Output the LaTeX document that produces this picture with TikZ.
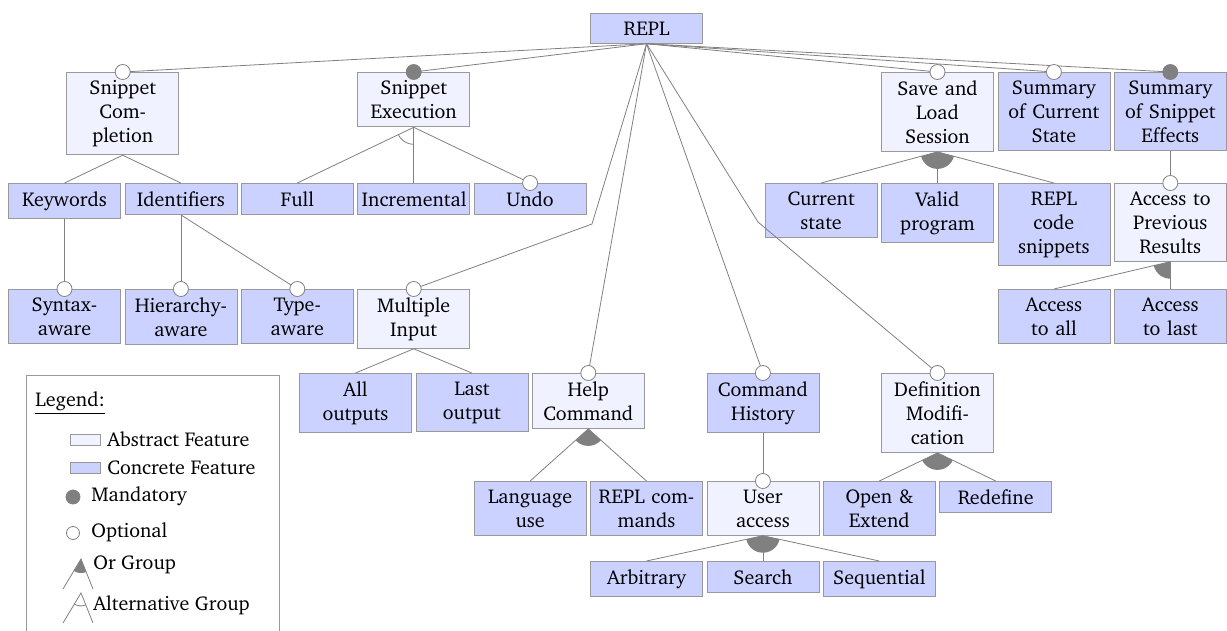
\documentclass[tikz,border=0pt]{standalone}
\usepackage[T1]{fontenc}
\usepackage{charter}
\usepackage{tikz}
\definecolor{concblue}{RGB}{204,210,255}
\definecolor{abstblue}{RGB}{240,242,255}

\begin{document}
\begin{tikzpicture}[
x = 0.5pt, y = -0.5pt,
feat/.style={rectangle, align = center, anchor = north,
draw = gray!80, text width = 52pt, inner xsep = 2pt, inner ysep = 4pt},
absrect/.style={feat, fill = abstblue},
conrect/.style={feat, fill = concblue},
featline/.style={draw = gray},
optdot/.style={draw = gray, fill = white},
mandot/.style={draw = gray, fill = gray},
grpfill/.style={fill = gray},
grparc/.style={draw = gray},
legtext/.style={anchor = west, inner sep = 1pt}]

\useasboundingbox (0,0) rectangle (1227,631);

\node[conrect] (R) at (646.5,13) {REPL};

\node[absrect] (SC) at (122.7,72) {Snippet\\Com-\\pletion};
\node[absrect] (SE) at (413.7,72) {Snippet\\Execution};
\node[absrect] (SL) at (937.5,72) {Save and\\Load\\Session};
\node[conrect] (SCS) at (1053.9,72) {Summary\\of Current\\State};
\node[conrect] (SSE) at (1170.3,72) {Summary\\of Snippet\\Effects};

\node[conrect] (KW) at (64.5,183) {Keywords};
\node[conrect] (ID) at (180.9,183) {Identifiers};
\node[conrect] (FU) at (297.3,183) {Full};
\node[conrect] (IN) at (413.7,183) {Incremental};
\node[conrect] (UN) at (530.1,183) {Undo};
\node[conrect] (CS) at (821.1,183) {Current\\state};
\node[conrect] (VP) at (937.5,183) {Valid\\program};
\node[conrect] (RS) at (1053.9,183) {REPL\\code\\snippets};
\node[absrect] (AP) at (1170.3,183) {Access to\\Previous\\Results};

\node[conrect] (SA) at (64.5,289) {Syntax-\\aware};
\node[conrect] (HA) at (180.9,289) {Hierarchy-\\aware};
\node[conrect] (TA) at (297.3,289) {Type-\\aware};
\node[absrect] (MI) at (413.7,289) {Multiple\\Input};
\node[conrect] (AA) at (1053.9,289) {Access\\to all};
\node[conrect] (AL) at (1170.3,289) {Access\\to last};

\node[conrect] (AO) at (355.5,373) {All\\outputs};
\node[conrect] (LO) at (471.9,373) {Last\\output};
\node[absrect] (HC) at (588.3,373) {Help\\Command};
\node[conrect] (CH) at (762.9,373) {Command\\History};
\node[absrect] (DM) at (937.5,373) {Definition\\Modifi-\\cation};

\node[conrect] (LU) at (530.1,481) {Language\\use};
\node[conrect] (RC) at (646.5,481) {REPL com-\\mands};
\node[absrect] (UA) at (762.9,481) {User\\access};
\node[conrect] (OE) at (879.3,481) {Open \&\\Extend};
\node[conrect] (RD) at (995.7,481) {Redefine};

\node[conrect] (AR) at (646.5,561) {Arbitrary};
\node[conrect] (SR) at (762.9,561) {Search};
\node[conrect] (SQ) at (879.3,561) {Sequential};

% connectors
\coordinate (bMI) at (592,224);
\coordinate (bDM) at (758,222);
\foreach \c in {SC,SE,SL,SCS,SSE,HC,CH}
  \draw[featline] (R.south) -- (\c.north);
\draw[featline] (R.south) -- (bMI) -- (MI.north);
\draw[featline] (R.south) -- (bDM) -- (DM.north);
\foreach \c in {KW,ID} \draw[featline] (SC.south) -- (\c.north);
\draw[featline] (KW.south) -- (SA.north);
\foreach \c in {HA,TA} \draw[featline] (ID.south) -- (\c.north);
\foreach \c in {FU,IN,UN} \draw[featline] (SE.south) -- (\c.north);
\foreach \c in {CS,VP,RS} \draw[featline] (SL.south) -- (\c.north);
\draw[featline] (SSE.south) -- (AP.north);
\foreach \c in {AA,AL} \draw[featline] (AP.south) -- (\c.north);
\foreach \c in {AO,LO} \draw[featline] (MI.south) -- (\c.north);
\foreach \c in {LU,RC} \draw[featline] (HC.south) -- (\c.north);
\draw[featline] (CH.south) -- (UA.north);
\foreach \c in {OE,RD} \draw[featline] (DM.south) -- (\c.north);
\foreach \c in {AR,SR,SQ} \draw[featline] (UA.south) -- (\c.north);

% groups
\begin{scope}
\clip (SE.south) -- (FU.north) -- (IN.north) -- cycle;
\draw[grparc] (SE.south) circle (8.5pt);
\end{scope}
\foreach \p/\a/\b in {SL/CS/RS, AP/AA/AL, HC/LU/RC, UA/AR/SQ, DM/OE/RD} {
  \begin{scope}
  \clip (\p.south) -- (\a.north) -- (\b.north) -- cycle;
  \fill[grpfill] (\p.south) circle (8.5pt);
  \end{scope}
}

% optional / mandatory
\foreach \c in {SC,SL,SCS,UN,AP,SA,HA,TA,MI,HC,CH,DM,UA}
  \draw[optdot] (\c.north) circle (3.75pt);
\foreach \c in {SE,SSE} \draw[mandot] (\c.north) circle (3.75pt);

% legend
\draw[draw = gray!80] (26,660) -- (26,375) -- (279,375) -- (279,660);
\node[anchor = base west, inner sep = 0pt] (LG) at (35,406) {\underline{Legend:}};
\draw[draw = gray!80, fill = abstblue] (70,434) rectangle (100,445);
\node[legtext] (LAF) at (105,439.5) {Abstract Feature};
\draw[draw = gray!80, fill = concblue] (70,462) rectangle (100,473);
\node[legtext] (LCF) at (105,467.5) {Concrete Feature};
\draw[mandot] (73,497) circle (3.5pt);
\node[legtext] (LM) at (89,496) {Mandatory};
\draw[optdot] (73,533) circle (3.25pt);
\node[legtext] (LOP) at (89,532) {Optional};
\coordinate (og) at (81,559);
\draw[featline] (63,589) -- (og) -- (93,589);
\begin{scope}
\clip (og) -- (63,589) -- (93,589) -- cycle;
\fill[grpfill] (og) circle (7pt);
\end{scope}
\node[legtext] (LOG) at (91,565) {Or Group};
\coordinate (ag) at (81,593);
\draw[featline] (63,623) -- (ag) -- (93,623);
\begin{scope}
\clip (ag) -- (63,623) -- (93,623) -- cycle;
\draw[grparc] (ag) circle (6.5pt);
\end{scope}
\node[legtext] (LAG) at (91,605) {Alternative Group};

\end{tikzpicture}
\end{document}
